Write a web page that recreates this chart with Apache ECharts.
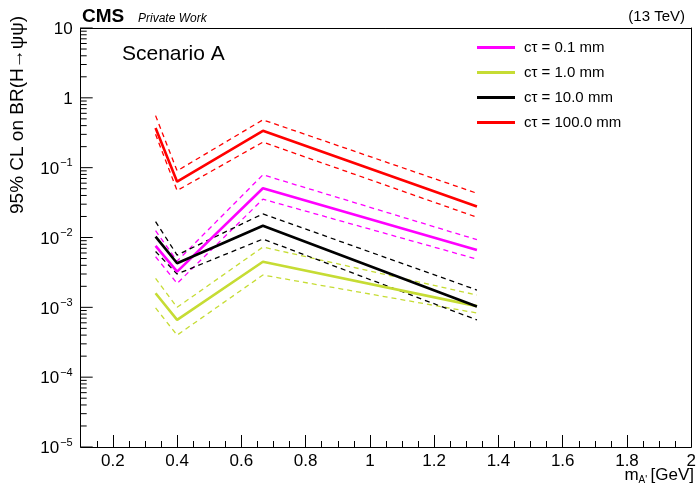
<!DOCTYPE html>
<html>
<head>
<meta charset="utf-8">
<script src="https://cdn.jsdelivr.net/npm/echarts@6/dist/echarts.min.js"></script>
<style>
html,body{margin:0;padding:0;background:#fff;}
#main{width:699px;height:486px;}
</style>
</head>
<body>
<div id="main"></div>
<script>
// ---- data ----
const massValues = [0.333, 0.4, 0.667, 1.333];
const seriesNames = ['cτ = 0.1 mm', 'cτ = 1.0 mm', 'cτ = 10.0 mm', 'cτ = 100.0 mm'];
const ct01 = [0.0076, 0.00325, 0.0508, 0.0066];
const ct01Up = [0.0125, 0.0046, 0.079, 0.0093];
const ct01Down = [0.0053, 0.0022, 0.0354, 0.0049];
const ct1 = [0.00159, 0.00066, 0.0045, 0.00104];
const ct1Up = [0.0026, 0.0010, 0.0073, 0.0015];
const ct1Down = [0.00098, 0.0004, 0.0029, 0.00083];
const ct10 = [0.0103, 0.00428, 0.0147, 0.00103];
const ct10Up = [0.0169, 0.0056, 0.0218, 0.00177];
const ct10Down = [0.0063, 0.0030, 0.0095, 0.00066];
const ct100 = [0.37, 0.063, 0.337, 0.0277];
const ct100Up = [0.556, 0.09, 0.484, 0.043];
const ct100Down = [0.30, 0.047, 0.232, 0.0195];
const xTickValues = [0.2, 0.4, 0.6, 0.8, 1, 1.2, 1.4, 1.6, 1.8, 2];
const xTickLabels = ['0.2','0.4','0.6','0.8','1','1.2','1.4','1.6','1.8','2'];
const yTickExponents = [1, 0, -1, -2, -3, -4, -5];
const yMajorTicks = [1e-5, 1e-4, 1e-3, 1e-2, 1e-1, 1, 10];
const yMinorMultipliers = [2, 3, 4, 5, 6, 7, 8, 9];

const colors = ['#ff00ff', '#c6dc34', '#000000', '#ff0000'];
const centralSets = [ct01, ct1, ct10, ct100];
const upSets = [ct01Up, ct1Up, ct10Up, ct100Up];
const downSets = [ct01Down, ct1Down, ct10Down, ct100Down];

function pts(arr){ return massValues.map((x,i)=>[x, arr[i]]); }

const series = [];
for (let k = 0; k < 4; k++) {
  [upSets[k], downSets[k]].forEach(band => {
    series.push({
      type: 'line', data: pts(band), showSymbol: false, silent: true,
      lineStyle: {color: colors[k], width: 1.3, type: [5, 4]},
      itemStyle: {color: colors[k]}, z: 2
    });
  });
}
for (let k = 0; k < 4; k++) {
  series.push({
    name: seriesNames[k], type: 'line', data: pts(centralSets[k]), showSymbol: false,
    lineStyle: {color: colors[k], width: 2.6}, itemStyle: {color: colors[k]}, z: 3
  });
}

// y-axis tick marks (ROOT style, pointing into the frame), placed through the log scale
const yTickMarks = [];
yMajorTicks.forEach(v => yTickMarks.push([0.1, v, 12]));
yMajorTicks.slice(0, -1).forEach(v => yMinorMultipliers.forEach(m => yTickMarks.push([0.1, +(m * v).toPrecision(3), 6])));
series.push({
  type: 'custom', silent: true, clip: false, z: 4,
  xAxisIndex: 0, yAxisIndex: 0,
  encode: {x: 0, y: 1},
  data: yTickMarks,
  renderItem: (params, api) => {
    const p = api.coord([api.value(0), api.value(1)]);
    const len = api.value(2);
    return {type: 'line', shape: {x1: p[0], y1: p[1], x2: p[0] + len, y2: p[1]}, style: {stroke: '#000', lineWidth: 1}};
  }
});

const chart = echarts.init(document.getElementById('main'), null, {renderer: 'canvas'});
const font = 'Liberation Sans, Arial, sans-serif';
chart.setOption({
  animation: false,
  textStyle: {fontFamily: font},
  grid: {left: 80.7, right: 5, top: 28, bottom: 39},
  xAxis: [{
    type: 'value', min: 0.1, max: 2, position: 'bottom',
    axisLine: {show: true, onZero: false, lineStyle: {color: '#000', width: 1}},
    splitLine: {show: false},
    axisTick: {show: true, inside: true, length: 12, lineStyle: {color: '#000'}, customValues: xTickValues},
    axisLabel: {show: true, color: '#000', fontSize: 17, margin: 6, fontFamily: font,
      customValues: xTickValues,
      formatter: v => { const i = xTickValues.findIndex(t => Math.abs(t - v) < 1e-6); return i >= 0 ? xTickLabels[i] : ''; }}
  }, {
    type: 'value', min: 0.1, max: 2, interval: 0.05, position: 'bottom', offset: 0,
    axisLine: {show: false, onZero: false}, splitLine: {show: false},
    axisTick: {show: true, inside: true, length: 6, lineStyle: {color: '#000'}},
    axisLabel: {show: false}
  }, {
    type: 'value', min: 0.1, max: 2, position: 'top',
    axisLine: {show: true, onZero: false, lineStyle: {color: '#000', width: 1}},
    splitLine: {show: false}, axisTick: {show: false}, axisLabel: {show: false}
  }],
  yAxis: [{
    type: 'log', min: 1e-5, max: 10, position: 'left',
    axisLine: {show: true, lineStyle: {color: '#000', width: 1}},
    splitLine: {show: false},
    axisTick: {show: false},
    axisLabel: {
      show: true, color: '#000', fontSize: 17, margin: 8, fontFamily: font,
      formatter: v => {
        const e = Math.round(Math.log10(v));
        if (yTickExponents.indexOf(e) < 0) return '';
        if (e === 1) return '{b|10}';
        if (e === 0) return '{b|1}';
        return '{b|10}{s|−' + (-e) + '}';
      },
      rich: {
        b: {fontSize: 17, fontFamily: font, color: '#000', verticalAlign: 'bottom', lineHeight: 20},
        s: {fontSize: 11, fontFamily: font, color: '#000', verticalAlign: 'top', lineHeight: 20, padding: [0, 0, 10, 1]}
      }
    }
  }, {
    type: 'log', min: 1e-5, max: 10, position: 'right',
    axisLine: {show: true, lineStyle: {color: '#000', width: 1}},
    splitLine: {show: false}, axisTick: {show: false}, axisLabel: {show: false}
  }],
  legend: {
    show: true, data: seriesNames, orient: 'vertical', left: 472, top: 35,
    itemWidth: 38, itemHeight: 3, itemGap: 10, icon: 'rect',
    textStyle: {fontSize: 15, color: '#000', fontFamily: font, padding: [0,0,0,4]},
    selectedMode: false
  },
  series: series,
  graphic: [
    {type: 'text', left: 82, top: 7, style: {text: 'CMS', font: 'bold 19px ' + font, fill: '#000'}},
    {type: 'text', left: 138, top: 13, style: {text: 'Private Work', font: 'italic 12px ' + font, fill: '#000'}},
    {type: 'text', right: 14, top: 9, style: {text: '(13 TeV)', font: '15px ' + font, fill: '#000'}},
    {type: 'text', left: 122, top: 44, style: {text: 'Scenario A', font: '21px ' + font, fill: '#000'}},
    {type: 'text', x: 8, y: 214, rotation: Math.PI / 2, style: {text: '95% CL on BR(H\u2192ψψ)', font: '19px ' + font, fill: '#000', textAlign: 'left', textVerticalAlign: 'top'}},
    {type: 'text', right: 5, top: 467, style: {
      text: '{m|m}{s|A\'} {m|[GeV]}', fill: '#000',
      rich: {m: {fontSize: 17, fontFamily: font, fill: '#000'}, s: {fontSize: 10, fontFamily: font, fill: '#000', padding: [10, 0, 0, 0]}}
    }}
  ]
});
</script>
</body>
</html>
